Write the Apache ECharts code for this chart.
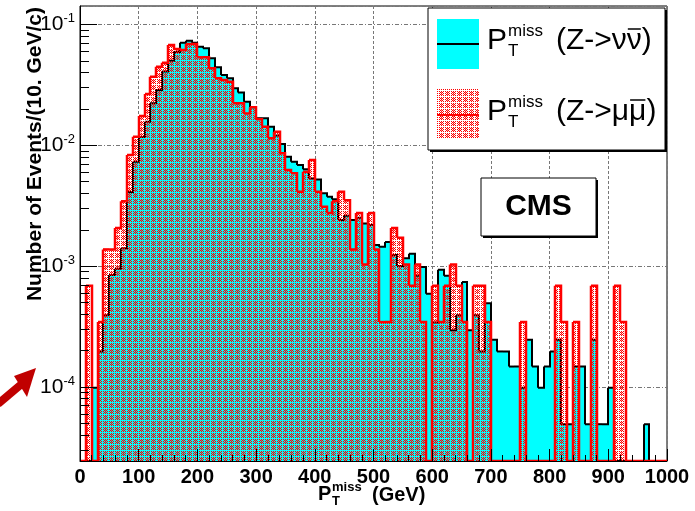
<!DOCTYPE html>
<html>
<head>
<meta charset="utf-8">
<title>MET Z->nunu vs Z->mumu</title>
<script src="https://cdn.jsdelivr.net/npm/echarts@6/dist/echarts.min.js"></script>
<style>
  html, body { margin: 0; padding: 0; background: #fff; }
  #chart { width: 695px; height: 511px; }
</style>
</head>
<body>
<div id="chart"></div>
<script>
// 10 GeV bins, 0 - 1000 GeV
const binWidth = 10;
const binLow = Array.from({ length: 100 }, (_, i) => i * binWidth);

// P_T^miss (Z->nunu), normalised events per bin
const nunu = [
  0, 0, 9.8e-5, 1.96e-4, 3.9e-4, 8.4e-4, 9.5e-4, 1.4e-3, 4.1e-3, 7.3e-3,
  1.17e-2, 1.56e-2, 2.22e-2, 2.86e-2, 4.06e-2, 5.0e-2, 5.9e-2, 7.05e-2, 7.31e-2, 7.05e-2,
  6.53e-2, 6.33e-2, 5.23e-2, 4.41e-2, 3.8e-2, 3.57e-2, 2.95e-2, 2.72e-2, 2.29e-2, 2.06e-2,
  1.67e-2, 1.67e-2, 1.42e-2, 1.2e-2, 1.02e-2, 8.0e-3, 7.3e-3, 6.84e-3, 6.3e-3, 5.3e-3,
  5.2e-3, 4.0e-3, 3.74e-3, 3.56e-3, 2.4e-3, 2.6e-3, 2.4e-3, 2.5e-3, 2.25e-3, 2.18e-3,
  1.49e-3, 1.44e-3, 1.58e-3, 1.23e-3, 1.0e-3, 1.16e-3, 1.26e-3, 8.3e-4, 9.8e-4, 5.9e-4,
  3.4e-4, 9.3e-4, 8.3e-4, 2.94e-4, 3.9e-4, 7.35e-4, 2.94e-4, 3.9e-4, 1.96e-4, 4.9e-4,
  2.45e-4, 1.96e-4, 1.96e-4, 1.47e-4, 1.47e-4, 9.8e-5, 2.45e-4, 1.47e-4, 9.8e-5, 1.47e-4,
  1.96e-4, 2.45e-4, 4.9e-5, 4.9e-5, 1.47e-4, 1.47e-4, 4.9e-5, 2.45e-4, 4.9e-5, 4.9e-5,
  9.8e-5, 0, 0, 0, 0, 0, 4.9e-5, 0, 0, 0
];

// P_T^miss (Z->mumu), normalised events per bin
const mumu = [
  0, 6.86e-4, 0, 3.43e-4, 1.37e-3, 1.37e-3, 2.06e-3, 3.43e-3, 8.28e-3, 1.175e-2,
  1.74e-2, 2.65e-2, 3.68e-2, 4.45e-2, 4.81e-2, 6.74e-2, 6.25e-2, 6.12e-2, 6.87e-2, 6.87e-2,
  5.33e-2, 5.33e-2, 4.32e-2, 3.57e-2, 3.46e-2, 3.35e-2, 2.22e-2, 2.22e-2, 1.83e-2, 2.06e-2,
  1.64e-2, 1.42e-2, 1.14e-2, 1.29e-2, 8.55e-3, 6.22e-3, 5.85e-3, 4.11e-3, 6.03e-3, 7.53e-3,
  4.11e-3, 3.09e-3, 2.74e-3, 3.43e-3, 4.12e-3, 3.49e-3, 1.37e-3, 2.74e-3, 1.03e-3, 2.74e-3,
  1.37e-3, 3.43e-4, 3.43e-4, 2.06e-3, 1.71e-3, 1.03e-3, 6.86e-4, 1.03e-3, 3.43e-4, 0,
  6.86e-4, 3.43e-4, 6.86e-4, 1.03e-3, 6.86e-4, 3.43e-4, 0, 6.86e-4, 6.86e-4, 3.43e-4,
  0, 0, 0, 0, 0, 3.43e-4, 0, 0, 0, 0,
  0, 6.86e-4, 3.43e-4, 0, 3.43e-4, 0, 0, 6.86e-4, 0, 0,
  0, 6.86e-4, 3.43e-4, 0, 0, 0, 0, 0, 0, 0
];

const xTickLabels = [0, 100, 200, 300, 400, 500, 600, 700, 800, 900, 1000];
const yDecades = [1e-4, 1e-3, 1e-2, 1e-1];

const yMin = 2.43e-5;
const yMax = 0.1417;
const FONT = '"Liberation Sans", Arial, Helvetica, sans-serif';

// ROOT style red dot hatch (transparent grid lines let the cyan show through)
function makeHatch() {
  const c = document.createElement("canvas");
  c.width = 6;
  c.height = 6;
  const ctx = c.getContext("2d");
  ctx.fillStyle = "#ff0000";
  for (let y = 0; y < 6; y++) {
    for (let x = 0; x < 6; x++) {
      if (x === 0 || y === 0) continue;
      if ((x + y) % 2 === 0) ctx.fillRect(x, y, 1, 1);
    }
  }
  ctx.fillStyle = "rgba(255,0,0,0.45)";
  ctx.fillRect(3, 1, 1, 5);
  return c;
}
const hatch = { image: makeHatch(), repeat: "repeat" };

const toItems = (vals) =>
  binLow.map((lo, i) => [lo, lo + binWidth, vals[i], i + 1 < vals.length ? vals[i + 1] : 0]);

const yPix = (api, cs, v) => {
  const bottom = cs.y + cs.height;
  if (!(v > yMin)) return bottom;
  return Math.max(cs.y, api.coord([0, v])[1]);
};

function fillSeries(vals, fill) {
  return {
    type: "custom",
    data: toItems(vals),
    encode: { x: [0, 1], y: 2 },
    clip: true,
    silent: true,
    renderItem: (params, api) => {
      const cs = params.coordSys;
      const v = api.value(2);
      if (!(v > yMin)) return null;
      const x0 = Math.round(api.coord([api.value(0), v])[0]);
      const x1 = Math.round(api.coord([api.value(1), v])[0]);
      const top = yPix(api, cs, v);
      const bottom = cs.y + cs.height;
      return {
        type: "rect",
        shape: { x: x0, y: top, width: x1 - x0, height: bottom - top },
        style: { fill: fill },
      };
    },
  };
}

function outlineSeries(vals, color, width) {
  return {
    type: "custom",
    data: toItems(vals),
    encode: { x: [0, 1], y: 2 },
    clip: true,
    silent: true,
    renderItem: (params, api) => {
      const cs = params.coordSys;
      const x0 = Math.round(api.coord([api.value(0), yMax])[0]);
      const x1 = Math.round(api.coord([api.value(1), yMax])[0]);
      const y0 = yPix(api, cs, api.value(2));
      const y1 = yPix(api, cs, api.value(3));
      return {
        type: "polyline",
        shape: { points: [[x0, y0], [x1, y0], [x1, y1]] },
        style: { stroke: color, lineWidth: width, fill: null },
      };
    },
  };
}

// minor/major ticks of the log axis, drawn above the histograms
const yTickVals = [];
for (let e = -5; e <= -1; e++) {
  for (let k = 1; k <= 9; k++) {
    const v = k * Math.pow(10, e);
    if (v > yMin && v < yMax) yTickVals.push([v, k === 1 ? 1 : 0]);
  }
}

const measureCtx = document.createElement("canvas").getContext("2d");
const textW = (s, font) => {
  measureCtx.font = font;
  return measureCtx.measureText(s).width;
};

function txt(text, x, y, size, weight, align) {
  return {
    type: "text",
    z: 100,
    silent: true,
    style: {
      text: text,
      x: x,
      y: y,
      fill: "#000",
      font: (weight || "normal") + " " + size + "px " + FONT,
      textAlign: align || "left",
      textVerticalAlign: "middle",
      verticalAlign: "middle",
    },
  };
}

// P_T^miss (Z->xx̄) legend label
function legendLabel(cy, particle) {
  const big = 30;
  const small = 17;
  const font = "normal " + big + "px " + FONT;
  const a = "(Z->" + particle;
  const xRest = 556;
  const xBar = xRest + textW(a, font);
  const wBar = textW(particle, font);
  return [
    txt("P", 487, cy, big),
    txt("miss", 508, cy - 10, small),
    txt("T", 508, cy + 10, small),
    txt(a + particle + ")", xRest, cy, big),
    {
      type: "line",
      z: 100,
      silent: true,
      shape: { x1: xBar + 1, y1: cy - 12, x2: xBar + wBar - 1, y2: cy - 12 },
      style: { stroke: "#000", lineWidth: 1.5 },
    },
  ];
}

const chart = echarts.init(document.getElementById("chart"));

const option = {
  animation: false,
  backgroundColor: "#fff",
  grid: {
    left: 80,
    top: 6,
    width: 587,
    height: 455,
    show: true,
    borderColor: "#000",
    borderWidth: 1,
    backgroundColor: "#fff",
  },
  xAxis: [
    {
      type: "value",
      min: 0,
      max: 1000,
      interval: 100,
      axisLine: { show: false },
      axisTick: { show: false },
      axisLabel: { show: false },
      splitLine: {
        show: true,
        lineStyle: { color: "#777", width: 1, type: [3, 2] },
      },
    },
    {
      type: "value",
      position: "bottom",
      min: 0,
      max: 1000,
      interval: 100,
      z: 10,
      axisLine: { show: true, lineStyle: { color: "#000", width: 1 } },
      axisTick: { show: true, inside: true, length: 12, lineStyle: { color: "#000" } },
      minorTick: { show: true, splitNumber: 5, length: 6, lineStyle: { color: "#000" } },
      splitLine: { show: false },
      axisLabel: {
        margin: 6,
        color: "#000",
        fontFamily: FONT,
        fontWeight: "bold",
        fontSize: 20,
        formatter: (v) => (xTickLabels.includes(v) ? String(v) : ""),
      },
    },
  ],
  yAxis: {
    type: "log",
    logBase: 10,
    min: yMin,
    max: yMax,
    axisLine: { show: true, lineStyle: { color: "#000", width: 1 } },
    axisTick: { show: false },
    splitLine: {
      show: true,
      lineStyle: { color: "#777", width: 1, type: [4, 2, 1, 2] },
    },
    axisLabel: {
      margin: 5,
      showMinLabel: false,
      showMaxLabel: false,
      formatter: (v) => {
        const lg = Math.log10(v);
        const e = Math.round(lg);
        if (Math.abs(lg - e) > 1e-6 || !yDecades.some((d) => Math.abs(d - v) / d < 1e-6)) return "";
        return "{b|10}{s|" + e + "}";
      },
      rich: {
        b: { fontSize: 21, fontFamily: FONT, color: "#000", lineHeight: 24 },
        s: { fontSize: 13, fontFamily: FONT, color: "#000", lineHeight: 13, verticalAlign: "top" },
      },
    },
  },
  series: [
    fillSeries(nunu, "#00ffff"),
    outlineSeries(nunu, "#000", 2),
    fillSeries(mumu, hatch),
    outlineSeries(mumu, "#ff0000", 2.5),
    {
      type: "custom",
      z: 20,
      silent: true,
      data: yTickVals,
      encode: { y: 0 },
      renderItem: (params, api) => {
        const p = api.coord([0, api.value(0)]);
        const len = api.value(1) ? 17 : 9;
        return {
          type: "line",
          shape: { x1: p[0], y1: Math.round(p[1]) + 0.5, x2: p[0] + len, y2: Math.round(p[1]) + 0.5 },
          style: { stroke: "#000", lineWidth: 1 },
        };
      },
    },
  ],
  graphic: [
    // y axis title
    {
      type: "text",
      z: 100,
      silent: true,
      x: 35,
      y: 154,
      rotation: Math.PI / 2,
      style: {
        text: "Number of Events/(10. GeV/c)",
        fill: "#000",
        font: "bold 21px " + FONT,
        textAlign: "center",
        textVerticalAlign: "middle",
        verticalAlign: "middle",
      },
    },
    // x axis title
    txt("P", 318, 494, 20, "bold"),
    txt("miss", 332, 487, 13, "bold"),
    txt("T", 332, 501, 13, "bold"),
    txt("(GeV)", 372, 495, 20, "bold"),
    // legend box
    {
      type: "rect",
      z: 90,
      silent: true,
      shape: { x: 430, y: 10, width: 237, height: 142 },
      style: { fill: "#000" },
    },
    {
      type: "rect",
      z: 91,
      silent: true,
      shape: { x: 428, y: 8, width: 237, height: 142 },
      style: { fill: "#fff", stroke: "#000", lineWidth: 1 },
    },
    {
      type: "rect",
      z: 92,
      silent: true,
      shape: { x: 437, y: 19, width: 42, height: 50 },
      style: { fill: "#00ffff" },
    },
    {
      type: "line",
      z: 93,
      silent: true,
      shape: { x1: 437, y1: 44, x2: 479, y2: 44 },
      style: { stroke: "#000", lineWidth: 2 },
    },
    {
      type: "rect",
      z: 92,
      silent: true,
      shape: { x: 437, y: 89, width: 42, height: 50 },
      style: { fill: hatch },
    },
    {
      type: "line",
      z: 93,
      silent: true,
      shape: { x1: 437, y1: 115, x2: 479, y2: 115 },
      style: { stroke: "#ff0000", lineWidth: 2 },
    },
    ...legendLabel(41, "\u03bd"),
    ...legendLabel(112, "\u03bc"),
    // CMS box
    {
      type: "rect",
      z: 90,
      silent: true,
      shape: { x: 483, y: 180, width: 115, height: 58 },
      style: { fill: "#000" },
    },
    {
      type: "rect",
      z: 91,
      silent: true,
      shape: { x: 481, y: 178, width: 115, height: 58 },
      style: { fill: "#fff", stroke: "#000", lineWidth: 1 },
    },
    txt("CMS", 538.5, 207, 30, "bold", "center"),
    // red arrow
    {
      type: "line",
      z: 100,
      silent: true,
      shape: { x1: -2, y1: 404, x2: 24, y2: 382 },
      style: { stroke: "#c00000", lineWidth: 8 },
    },
    {
      type: "polygon",
      z: 100,
      silent: true,
      shape: { points: [[36, 368], [14, 376], [27, 397]] },
      style: { fill: "#c00000" },
    },
  ],
};

chart.setOption(option);
window.addEventListener("resize", () => chart.resize());
</script>
</body>
</html>
